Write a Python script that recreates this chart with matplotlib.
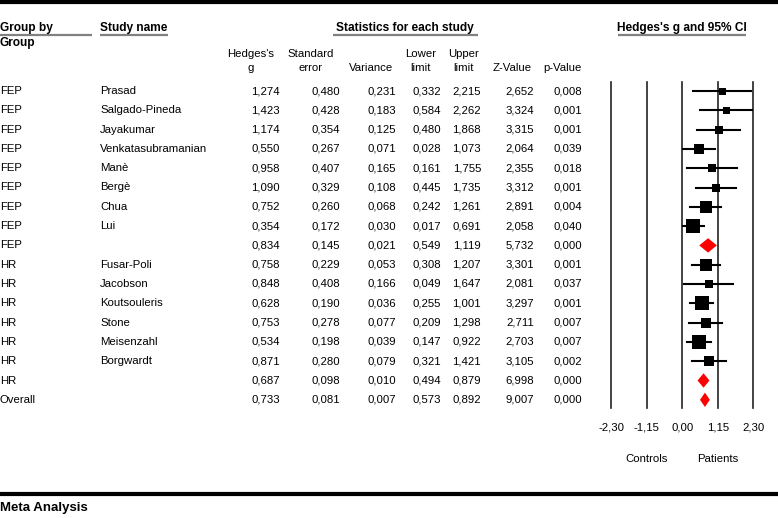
import numpy as np
import matplotlib
matplotlib.use("Agg")
import matplotlib.pyplot as plt

plt.rcParams['font.family'] = ['Liberation Sans', 'DejaVu Sans']

# table data
groups = ['FEP'] * 9 + ['HR'] * 7 + ['Overall']
names = ['Prasad', 'Salgado-Pineda', 'Jayakumar', 'Venkatasubramanian', 'Manè', 'Bergè',
         'Chua', 'Lui', '', 'Fusar-Poli', 'Jacobson', 'Koutsouleris', 'Stone',
         'Meisenzahl', 'Borgwardt', '', '']
hedges = [1.274, 1.423, 1.174, 0.550, 0.958, 1.090, 0.752, 0.354, 0.834,
          0.758, 0.848, 0.628, 0.753, 0.534, 0.871, 0.687, 0.733]
stderr = [0.480, 0.428, 0.354, 0.267, 0.407, 0.329, 0.260, 0.172, 0.145,
          0.229, 0.408, 0.190, 0.278, 0.198, 0.280, 0.098, 0.081]
variance = [0.231, 0.183, 0.125, 0.071, 0.165, 0.108, 0.068, 0.030, 0.021,
            0.053, 0.166, 0.036, 0.077, 0.039, 0.079, 0.010, 0.007]
lower = [0.332, 0.584, 0.480, 0.028, 0.161, 0.445, 0.242, 0.017, 0.549,
         0.308, 0.049, 0.255, 0.209, 0.147, 0.321, 0.494, 0.573]
upper = [2.215, 2.262, 1.868, 1.073, 1.755, 1.735, 1.261, 0.691, 1.119,
         1.207, 1.647, 1.001, 1.298, 0.922, 1.421, 0.879, 0.892]
zval = [2.652, 3.324, 3.315, 2.064, 2.355, 3.312, 2.891, 2.058, 5.732,
        3.301, 2.081, 3.297, 2.711, 2.703, 3.105, 6.998, 9.007]
pval = [0.008, 0.001, 0.001, 0.039, 0.018, 0.001, 0.004, 0.040, 0.000,
        0.001, 0.037, 0.001, 0.007, 0.007, 0.002, 0.000, 0.000]
summary = [False] * 8 + [True] + [False] * 6 + [True, True]
ticks = [-2.30, -1.15, 0.00, 1.15, 2.30]

W, H = 778, 518
fig = plt.figure(figsize=(W / 100, H / 100), dpi=100)

# pixel-coordinate axes for the table
tab = fig.add_axes([0, 0, 1, 1])
tab.set_xlim(0, W)
tab.set_ylim(H, 0)
tab.axis('off')

fs = 8.2
row0, step = 91, 19.3
ys = [row0 + step * i for i in range(len(hedges))]


def fmt(v):
    return f"{v:.3f}".replace('.', ',')


# rules
tab.plot([0, W], [2, 2], color='black', lw=3, solid_capstyle='butt')
tab.plot([0, W], [494, 494], color='black', lw=3, solid_capstyle='butt')

# headers
bold = dict(fontsize=8.6, fontweight='bold', va='center')
tab.text(0, 28, 'Group by', ha='left', **bold)
tab.text(0, 43, 'Group', ha='left', **bold)
tab.text(100, 28, 'Study name', ha='left', **bold)
tab.text(405, 28, 'Statistics for each study', ha='center', **bold)
tab.text(682, 28, "Hedges's g and 95% CI", ha='center', **bold)
for x0, x1 in [(0, 92), (100, 168), (333, 478), (618, 746)]:
    tab.plot([x0, x1], [35, 35], color='#808080', lw=1.6, solid_capstyle='butt')

col_right = [280, 340, 396, 441, 481, 534, 582]
col_head = [(251, "Hedges's\ng"), (311, "Standard\nerror"), (371, "Variance"),
            (421, "Lower\nlimit"), (464, "Upper\nlimit"), (512, "Z-Value"),
            (562, "p-Value")]
for xc, lab in col_head:
    tab.text(xc, 73, lab, ha='center', va='bottom', fontsize=fs,
             linespacing=1.45, multialignment='center')

cols = [hedges, stderr, variance, lower, upper, zval, pval]
for i, y in enumerate(ys):
    tab.text(0, y, groups[i], ha='left', va='center', fontsize=fs)
    tab.text(100, y, names[i], ha='left', va='center', fontsize=fs)
    for xr, col in zip(col_right, cols):
        tab.text(xr, y, fmt(col[i]), ha='right', va='center', fontsize=fs)

tab.text(0, 508, 'Meta Analysis', ha='left', va='center', fontsize=9.5,
         fontweight='bold', family=['Liberation Sans Narrow', 'Liberation Sans'])

# forest plot axes: x in Hedges's g, y in rows
x0px, ppu = 682.3, 30.9
fp = fig.add_axes([0, 0, 1, 1])
fp.set_xlim((0 - x0px) / ppu, (W - x0px) / ppu)
fp.set_ylim((H - row0) / step, (0 - row0) / step)
fp.axis('off')
fp.patch.set_alpha(0)

top, bot = (82 - row0) / step, (408 - row0) / step
for t in ticks:
    fp.plot([t, t], [top, bot], color='#222222', lw=1.2, zorder=1)
    fp.text(t, (427 - row0) / step, f"{t:.2f}".replace('.', ','),
            ha='center', va='center', fontsize=fs)
fp.text(-1.15, (459 - row0) / step, 'Controls', ha='center', va='center', fontsize=fs)
fp.text(1.15, (459 - row0) / step, 'Patients', ha='center', va='center', fontsize=fs)

dh = 7.2 / step
for i in range(len(hedges)):
    if summary[i]:
        fp.fill([lower[i], hedges[i], upper[i], hedges[i]],
                [i, i - dh, i, i + dh], color='#ff0000', lw=0, zorder=3)
    else:
        fp.plot([lower[i], upper[i]], [i, i], color='black', lw=1.5, zorder=2)
        side = np.clip(2.9 * np.sqrt(1 / variance[i]), 7, 14)
        fp.scatter([hedges[i]], [i], marker='s', s=(side * 0.72) ** 2,
                   color='black', lw=0, zorder=3)

fig.savefig('out.png', dpi=100)
